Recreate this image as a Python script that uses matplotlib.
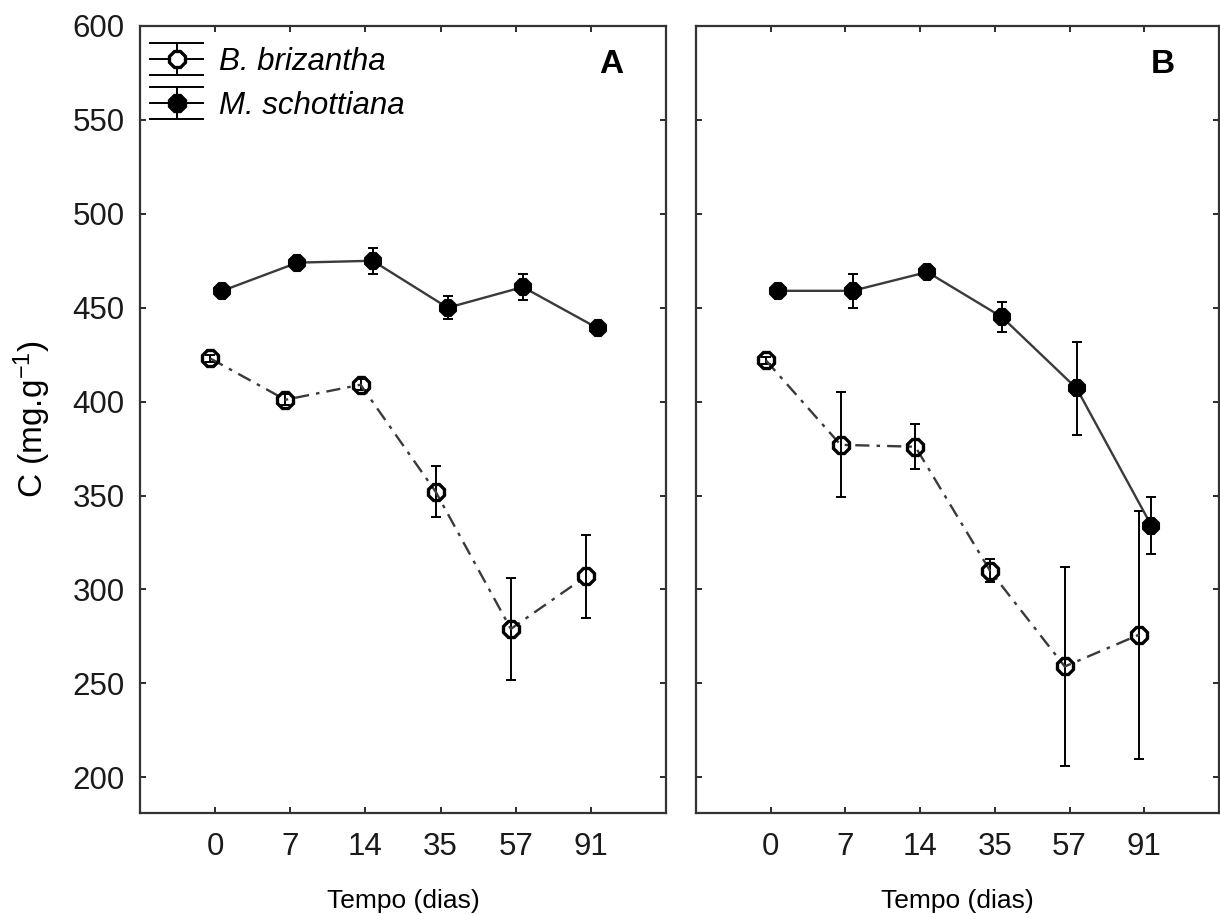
import matplotlib
matplotlib.use("Agg")
import matplotlib.pyplot as plt
from matplotlib.lines import Line2D
from matplotlib.legend_handler import HandlerBase
import numpy as np

plt.rcParams['font.family'] = ['Liberation Sans', 'DejaVu Sans']
plt.rcParams['mathtext.fontset'] = 'custom'
plt.rcParams['mathtext.rm'] = 'Liberation Sans'
plt.rcParams['mathtext.it'] = 'Liberation Sans:italic'

# sampling days (categorical axis)
dias = ['0', '7', '14', '35', '57', '91']

# panel A
a_briz = [423, 401, 409, 352, 279, 307]
a_briz_err = [2, 3, 3, 13.5, 27, 22]
a_scho = [459, 474, 475, 450, 461, 439]
a_scho_err = [2, 3, 7, 6, 7, 2]

# panel B
b_briz = [422, 377, 376, 310, 259, 276]
b_briz_err = [2, 28, 12, 6, 53, 66]
b_scho = [459, 459, 469, 445, 407, 334]
b_scho_err = [2, 9, 2, 8, 25, 15]

LINE_C = '#3a3a3a'
MS = 12.5


class ErrbarHandler(HandlerBase):
    """Legend key: marker with a vertical bar and three horizontal rules."""
    def __init__(self, filled):
        super().__init__()
        self.filled = filled

    def create_artists(self, legend, orig_handle, xdescent, ydescent,
                       width, height, fontsize, trans):
        cy = height / 2 - ydescent
        cx = width / 2 - xdescent
        off = 11.5
        arts = []
        for dy in (-off, 0, off):
            arts.append(Line2D([-xdescent, width - xdescent], [cy + dy] * 2,
                               color='black', lw=1.4))
        arts.append(Line2D([cx, cx], [cy - off, cy + off], color='black', lw=1.4))
        arts.append(Line2D([cx], [cy], marker='8', ms=MS, mew=2.4,
                           mec='black', mfc='black' if self.filled else 'white'))
        for a in arts:
            a.set_transform(trans)
        return arts


def draw_panel(ax, briz, briz_err, scho, scho_err):
    x = np.arange(len(dias))
    ax.errorbar(x - 0.065, briz, yerr=briz_err, fmt='none', ecolor='black',
                elinewidth=1.4, capsize=3.8, capthick=1.4, zorder=2)
    ax.plot(x - 0.065, briz, color=LINE_C, lw=1.7, ls=(0, (6, 3, 1.5, 3)),
            marker='8', ms=MS, mew=2.4, mec='black', mfc='none', zorder=3)
    ax.errorbar(x + 0.095, scho, yerr=scho_err, fmt='none', ecolor='black',
                elinewidth=1.4, capsize=3.8, capthick=1.4, zorder=2)
    ax.plot(x + 0.095, scho, color=LINE_C, lw=1.7, ls='-',
            marker='8', ms=MS, mew=1.5, mec='black', mfc='black', zorder=3)

    ax.set_xlim(-1, 6)
    ax.set_ylim(181, 600)
    ax.set_xticks(x)
    ax.set_xticklabels(dias)
    ax.set_yticks(np.arange(200, 601, 50))
    ax.tick_params(direction='in', length=4, width=1.3, top=True, right=True,
                   labelsize=22.5, colors='#1a1a1a')
    ax.tick_params(axis='x', pad=14)
    ax.tick_params(axis='y', pad=11)
    for s in ax.spines.values():
        s.set_linewidth(1.6)
        s.set_color('#333333')
    ax.set_xlabel('Tempo (dias)', fontsize=19)
    ax.xaxis.set_label_coords(0.5, -0.097)


fig = plt.figure(figsize=(12.2, 9.14), dpi=100)
axA = fig.add_axes([0.1148, 0.1105, 0.4311, 0.8611])
axB = fig.add_axes([0.5705, 0.1105, 0.4287, 0.8611])

draw_panel(axA, a_briz, a_briz_err, a_scho, a_scho_err)
draw_panel(axB, b_briz, b_briz_err, b_scho, b_scho_err)
axB.tick_params(axis='y', labelleft=False)

axA.set_ylabel('C (mg.g$^{-1}$)', fontsize=24, labelpad=0)
axA.yaxis.set_label_coords(-0.165, 0.5)

axA.text(0.895, 0.951, 'A', transform=axA.transAxes, fontsize=24,
         fontweight='bold', ha='center', va='center')
axB.text(0.893, 0.951, 'B', transform=axB.transAxes, fontsize=24,
         fontweight='bold', ha='center', va='center')

h1, h2 = object(), object()
leg = axA.legend([h1, h2], ['B. brizantha', 'M. schottiana'],
                 handler_map={h1: ErrbarHandler(False), h2: ErrbarHandler(True)},
                 loc='upper left', bbox_to_anchor=(0.007, 0.981), borderaxespad=0,
                 borderpad=0.2, frameon=False, handlelength=1.7, handletextpad=0.5,
                 labelspacing=0.45, prop={'size': 22.5, 'style': 'italic'})

fig.savefig('out.png', dpi=100)
